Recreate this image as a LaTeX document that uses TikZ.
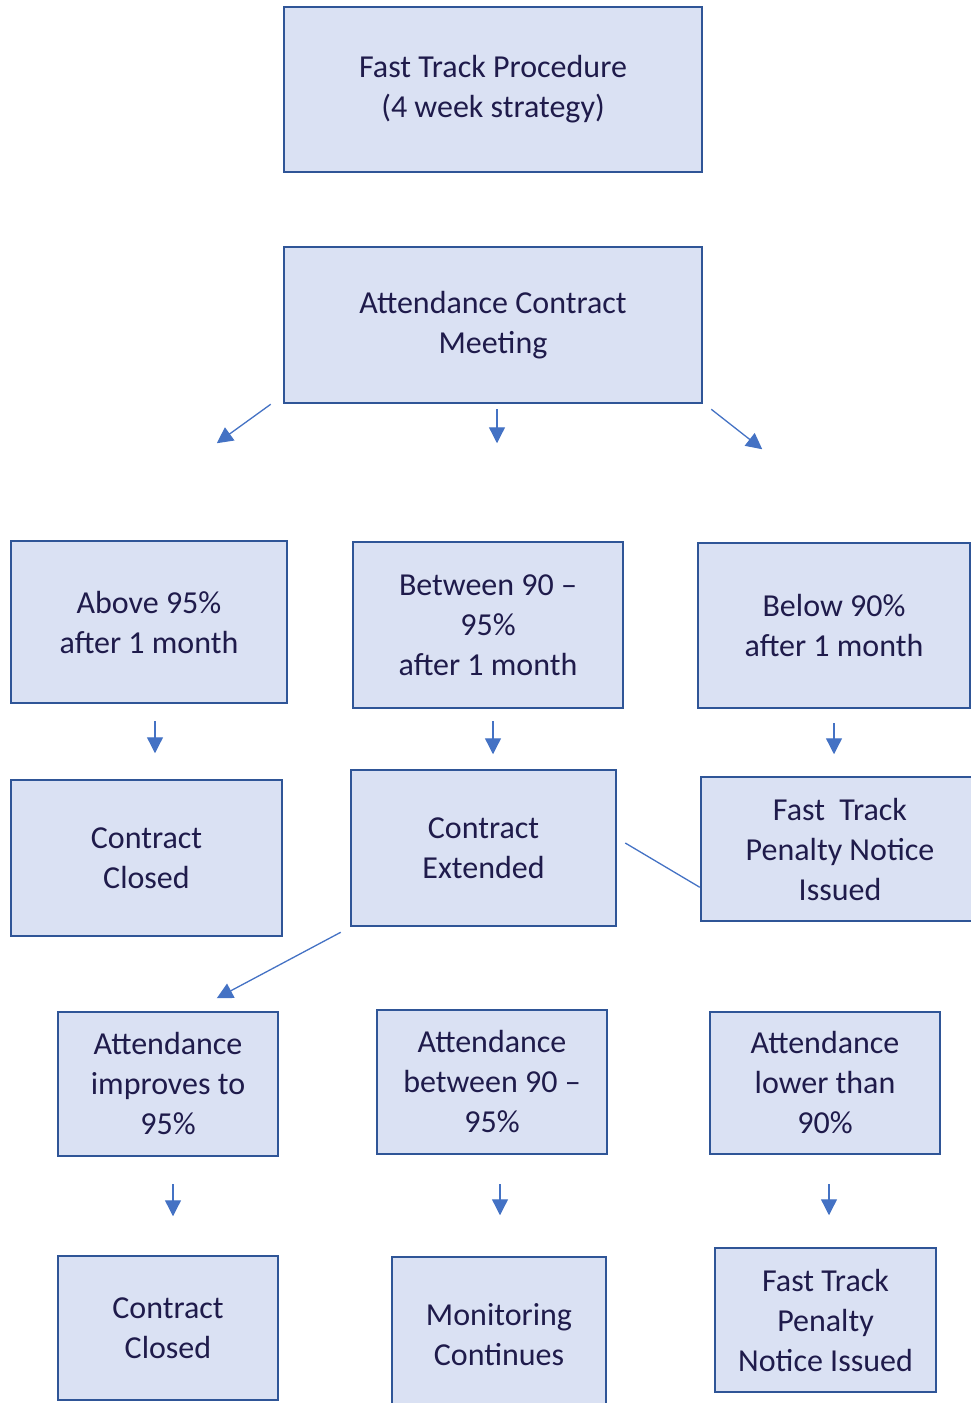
\documentclass[tikz,border=0pt]{standalone}
\usepackage{fontspec}
\setmainfont{Carlito}
\usetikzlibrary{calc}
\usetikzlibrary{arrows.meta}

\definecolor{boxfill}{HTML}{DAE1F3}
\definecolor{boxline}{HTML}{2F5597}
\definecolor{arrowblue}{HTML}{4472C4}
\definecolor{textnavy}{HTML}{1F1B4B}

\tikzset{
  box/.style={draw=boxline, fill=boxfill, line width=2.5pt, text=textnavy,
    align=center, inner sep=0pt, font=\fontsize{32}{40}\selectfont},
  arr/.style={draw=arrowblue, line width=1.3pt, -{Triangle[width=16pt,length=16pt]}},
  link/.style={draw=arrowblue, line width=1.3pt},
}

\begin{document}
\begin{tikzpicture}[x=1pt,y=-1pt]
\useasboundingbox (0,0) rectangle (971,1403);

% top of the procedure
\node (FT) at (493,89.5) [box, minimum width=418pt, minimum height=165pt] {Fast Track Procedure\\(4 week strategy)};
\node (ACM) at (493,325) [box, minimum width=418pt, minimum height=156pt] {Attendance Contract\\Meeting};

% after one month
\node (A95) at (149,622) [box, minimum width=276pt, minimum height=162pt] {Above 95\%\\after 1 month};
\node (B9095) at (488,625) [box, minimum width=270pt, minimum height=166pt] {Between 90 --\\95\%\\after 1 month};
\node (B90) at (834,625.5) [box, minimum width=272pt, minimum height=165pt] {Below 90\%\\after 1 month};

\node (CC1) at (146.5,858) [box, minimum width=271pt, minimum height=156pt] {Contract\\Closed};
\node (CE) at (483.5,848) [box, minimum width=265pt, minimum height=156pt] {Contract\\Extended};
\node (FTP1) at (840,849) [box, minimum width=278pt, minimum height=144pt] {Fast\ \ Track\\Penalty Notice\\Issued};

% extended contract
\node (AI) at (168,1084) [box, minimum width=220pt, minimum height=144pt] {Attendance\\improves to\\95\%};
\node (AB) at (492,1082) [box, minimum width=230pt, minimum height=144pt] {Attendance\\between 90 --\\95\%};
\node (AL) at (825,1083) [box, minimum width=230pt, minimum height=142pt] {Attendance\\lower than\\90\%};

\node (CC2) at (168,1328) [box, minimum width=220pt, minimum height=144pt] {Contract\\Closed};
\node (MC) at (499,1335) [box, minimum width=214pt, minimum height=156pt] {Monitoring\\Continues};
\node (FTP2) at (825.5,1320) [box, minimum width=221pt, minimum height=144pt] {Fast Track\\Penalty\\Notice Issued};

% arrows
\coordinate (a1s) at ($(ACM.south west)+(-12,0)$);
\coordinate (a1e) at ($(ACM.south west)+(-66,39)$);
\coordinate (a2s) at ($(ACM.south)+(4,5)$);
\coordinate (a2e) at ($(ACM.south)+(4,39)$);
\coordinate (a3s) at ($(ACM.south east)+(8,5)$);
\coordinate (a3e) at ($(ACM.south east)+(59,45)$);
\draw [arr] (a1s) -- (a1e);
\draw [arr] (a2s) -- (a2e);
\draw [arr] (a3s) -- (a3e);

\coordinate (a4s) at ($(A95.south)+(6,17)$);
\coordinate (a4e) at ($(A95.south)+(6,49)$);
\coordinate (a5s) at ($(B9095.south)+(5,12)$);
\coordinate (a5e) at ($(B9095.south)+(5,45)$);
\coordinate (a6s) at ($(B90.south)+(0,14)$);
\coordinate (a6e) at ($(B90.south)+(0,45)$);
\draw [arr] (a4s) -- (a4e);
\draw [arr] (a5s) -- (a5e);
\draw [arr] (a6s) -- (a6e);

\coordinate (l1s) at ($(CE.east)+(8,-5)$);
\draw [link] (l1s) -- ($(FTP1.south west)+(0,-35)$);

\coordinate (a7s) at ($(CE.south west)+(-9,5)$);
\coordinate (a7e) at ($(CE.south west)+(-133,71)$);
\draw [arr] (a7s) -- (a7e);

\coordinate (a8s) at ($(AI.south)+(5,27)$);
\coordinate (a8e) at ($(AI.south)+(5,59)$);
\coordinate (a9s) at ($(AB.south)+(8,29)$);
\coordinate (a9e) at ($(AB.south)+(8,60)$);
\coordinate (a10s) at ($(AL.south)+(4,29)$);
\coordinate (a10e) at ($(AL.south)+(4,60)$);
\draw [arr] (a8s) -- (a8e);
\draw [arr] (a9s) -- (a9e);
\draw [arr] (a10s) -- (a10e);
\end{tikzpicture}
\end{document}
